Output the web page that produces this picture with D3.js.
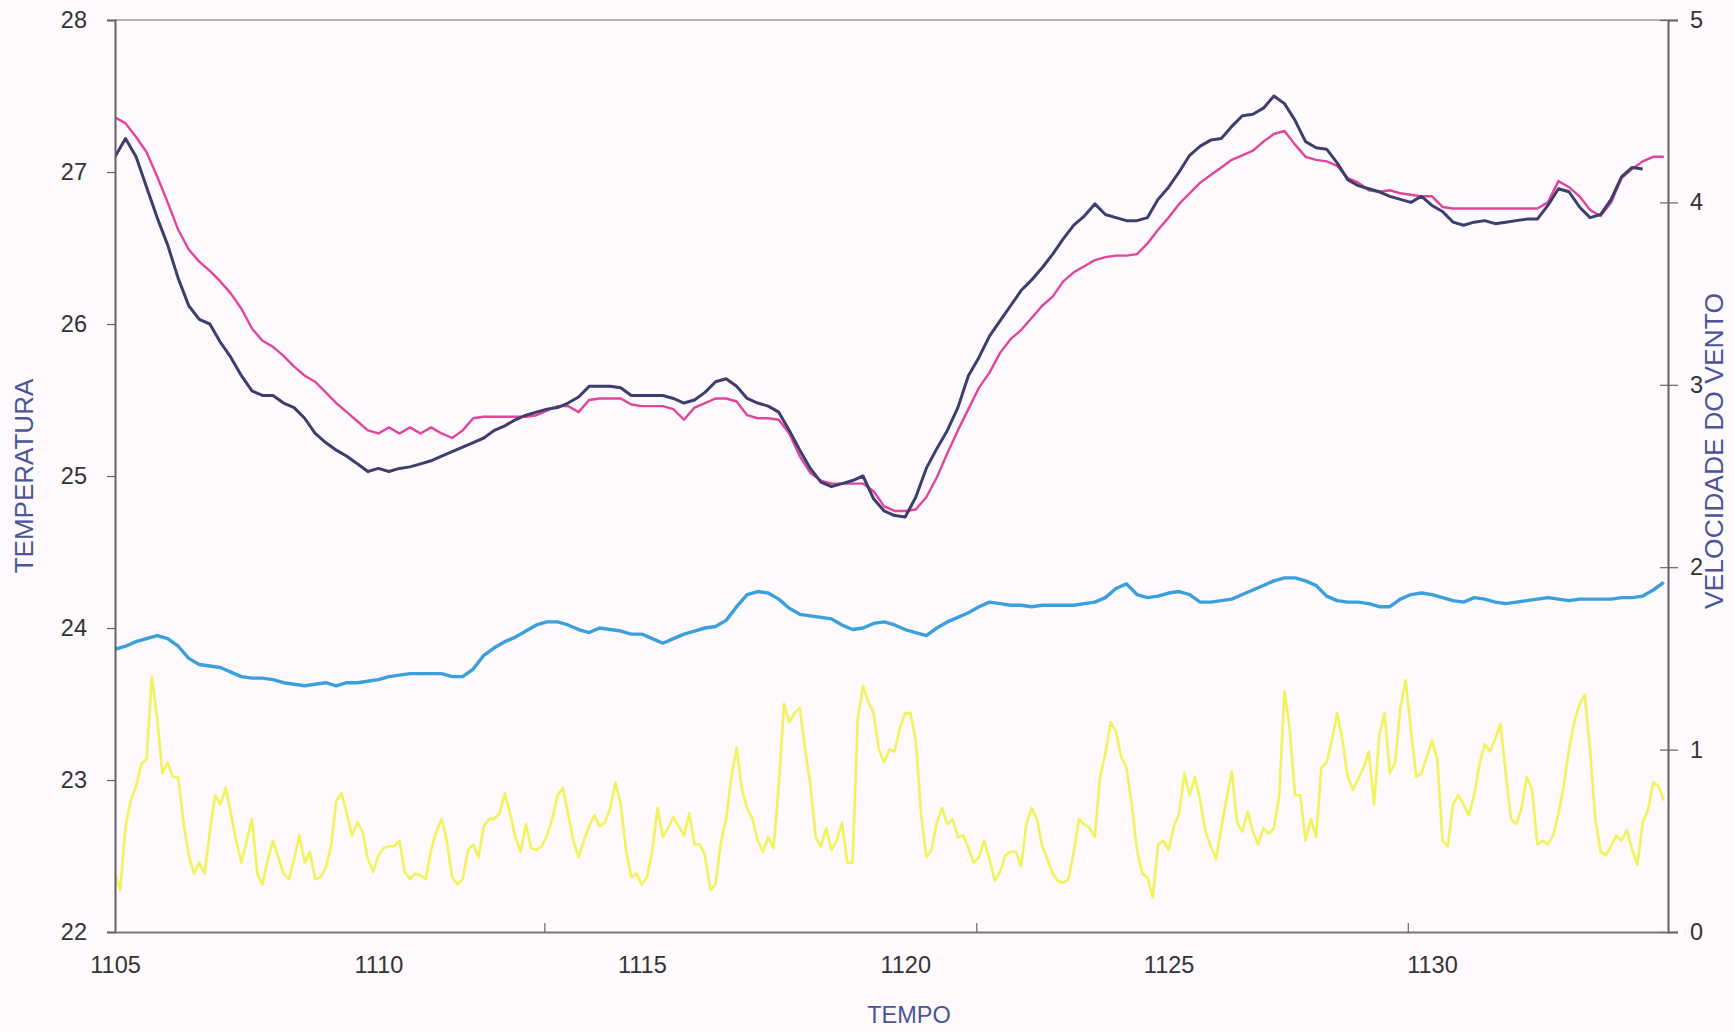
<!DOCTYPE html>
<html>
<head>
<meta charset="utf-8">
<script src="https://cdn.jsdelivr.net/npm/d3@7"></script>
<style>
  html, body { margin: 0; padding: 0; background: #fdf9fc; }
  svg { display: block; }
  text { font-family: "Liberation Sans", Arial, sans-serif; }
</style>
</head>
<body>
<svg id="chart" width="1734" height="1032"></svg>
<script>
// Sampling grid: temperatures every 0.2, wind every 0.1 time units from 1105
const tStart = 1105;
const tempStep = 0.2;
const windStep = 0.1;

// Air temperature, station 1 (dark line)
const tempA = [
  27.10, 27.22, 27.10, 26.90, 26.70, 26.52, 26.30, 26.12, 26.03, 26.00,
  25.88, 25.78, 25.66, 25.56, 25.53, 25.53, 25.48, 25.45, 25.38, 25.28,
  25.22, 25.17, 25.13, 25.08, 25.03, 25.05, 25.03, 25.05, 25.06, 25.08,
  25.10, 25.13, 25.16, 25.19, 25.22, 25.25, 25.30, 25.33, 25.37, 25.40,
  25.42, 25.44, 25.45, 25.48, 25.52, 25.59, 25.59, 25.59, 25.58, 25.53,
  25.53, 25.53, 25.53, 25.51, 25.48, 25.50, 25.55, 25.62, 25.64, 25.59,
  25.51, 25.48, 25.46, 25.42, 25.30, 25.17, 25.05, 24.96, 24.93, 24.95,
  24.97, 25.00, 24.85, 24.77, 24.74, 24.73, 24.86, 25.05, 25.18, 25.30,
  25.45, 25.66, 25.78, 25.92, 26.02, 26.12, 26.22, 26.29, 26.37, 26.46,
  26.56, 26.65, 26.71, 26.79, 26.72, 26.70, 26.68, 26.68, 26.70, 26.82,
  26.90, 27.00, 27.11, 27.17, 27.21, 27.22, 27.30, 27.37, 27.38, 27.42,
  27.50, 27.45, 27.34, 27.20, 27.16, 27.15, 27.06, 26.95, 26.91, 26.89,
  26.87, 26.84, 26.82, 26.80, 26.84, 26.78, 26.74, 26.67, 26.65, 26.67,
  26.68, 26.66, 26.67, 26.68, 26.69, 26.69, 26.78, 26.89, 26.87, 26.77,
  26.70, 26.72, 26.82, 26.97, 27.03, 27.02
];

// Air temperature, station 2 (magenta line)
const tempB = [
  27.36, 27.32, 27.23, 27.13, 26.97, 26.80, 26.62, 26.49, 26.41, 26.35,
  26.28, 26.20, 26.10, 25.97, 25.89, 25.85, 25.79, 25.72, 25.66, 25.62,
  25.55, 25.48, 25.42, 25.36, 25.30, 25.28, 25.32, 25.28, 25.32, 25.28,
  25.32, 25.28, 25.25, 25.30, 25.38, 25.39, 25.39, 25.39, 25.39, 25.39,
  25.40, 25.43, 25.46, 25.46, 25.42, 25.50, 25.51, 25.51, 25.51, 25.47,
  25.46, 25.46, 25.46, 25.44, 25.37, 25.45, 25.48, 25.51, 25.51, 25.49,
  25.40, 25.38, 25.38, 25.37, 25.28, 25.13, 25.02, 24.97, 24.95, 24.95,
  24.95, 24.95, 24.90, 24.80, 24.77, 24.77, 24.78, 24.86, 24.99, 25.15,
  25.30, 25.44, 25.58, 25.68, 25.81, 25.90, 25.96, 26.04, 26.12, 26.18,
  26.28, 26.34, 26.38, 26.42, 26.44, 26.45, 26.45, 26.46, 26.53, 26.62,
  26.70, 26.79, 26.86, 26.93, 26.98, 27.03, 27.08, 27.11, 27.14, 27.20,
  27.25, 27.27, 27.18, 27.10, 27.08, 27.07, 27.04, 26.96, 26.93, 26.88,
  26.87, 26.88, 26.86, 26.85, 26.84, 26.84, 26.77, 26.76, 26.76, 26.76,
  26.76, 26.76, 26.76, 26.76, 26.76, 26.76, 26.80, 26.94, 26.90, 26.84,
  26.75, 26.71, 26.80, 26.96, 27.02, 27.07, 27.10, 27.10
];

// Smooth temperature (light blue line), left axis
const tempC = [
  23.86, 23.88, 23.91, 23.93, 23.95, 23.93, 23.88, 23.80, 23.76, 23.75,
  23.74, 23.71, 23.68, 23.67, 23.67, 23.66, 23.64, 23.63, 23.62, 23.63,
  23.64, 23.62, 23.64, 23.64, 23.65, 23.66, 23.68, 23.69, 23.70, 23.70,
  23.70, 23.70, 23.68, 23.68, 23.73, 23.82, 23.87, 23.91, 23.94, 23.98,
  24.02, 24.04, 24.04, 24.02, 23.99, 23.97, 24.00, 23.99, 23.98, 23.96,
  23.96, 23.93, 23.90, 23.93, 23.96, 23.98, 24.00, 24.01, 24.05, 24.14,
  24.22, 24.24, 24.23, 24.19, 24.13, 24.09, 24.08, 24.07, 24.06, 24.02,
  23.99, 24.00, 24.03, 24.04, 24.02, 23.99, 23.97, 23.95, 24.00, 24.04,
  24.07, 24.10, 24.14, 24.17, 24.16, 24.15, 24.15, 24.14, 24.15, 24.15,
  24.15, 24.15, 24.16, 24.17, 24.20, 24.26, 24.29, 24.22, 24.20, 24.21,
  24.23, 24.24, 24.22, 24.17, 24.17, 24.18, 24.19, 24.22, 24.25, 24.28,
  24.31, 24.33, 24.33, 24.31, 24.28, 24.21, 24.18, 24.17, 24.17, 24.16,
  24.14, 24.14, 24.19, 24.22, 24.23, 24.22, 24.20, 24.18, 24.17, 24.20,
  24.19, 24.17, 24.16, 24.17, 24.18, 24.19, 24.20, 24.19, 24.18, 24.19,
  24.19, 24.19, 24.19, 24.20, 24.20, 24.21, 24.25, 24.30
];

// Wind speed (yellow line), right axis
const windSpeed = [
  0.32, 0.23, 0.58, 0.72, 0.80, 0.92, 0.95, 1.40, 1.17, 0.87,
  0.93, 0.85, 0.85, 0.60, 0.42, 0.32, 0.38, 0.32, 0.55, 0.75,
  0.70, 0.79, 0.65, 0.50, 0.38, 0.50, 0.62, 0.32, 0.26, 0.40,
  0.50, 0.41, 0.32, 0.29, 0.40, 0.53, 0.38, 0.44, 0.29, 0.30,
  0.35, 0.47, 0.72, 0.76, 0.65, 0.53, 0.60, 0.55, 0.40, 0.33,
  0.42, 0.46, 0.47, 0.47, 0.50, 0.33, 0.29, 0.32, 0.31, 0.29,
  0.45, 0.55, 0.62, 0.50, 0.30, 0.26, 0.29, 0.45, 0.48, 0.41,
  0.58, 0.62, 0.62, 0.65, 0.76, 0.65, 0.52, 0.44, 0.59, 0.46,
  0.45, 0.47, 0.53, 0.62, 0.75, 0.79, 0.65, 0.50, 0.41, 0.50,
  0.58, 0.64, 0.58, 0.60, 0.68, 0.82, 0.70, 0.45, 0.30, 0.32,
  0.26, 0.30, 0.45, 0.68, 0.52, 0.57, 0.63, 0.58, 0.53, 0.65,
  0.48, 0.48, 0.42, 0.23, 0.26, 0.49, 0.62, 0.85, 1.01, 0.78,
  0.68, 0.62, 0.50, 0.44, 0.52, 0.46, 0.80, 1.25, 1.15, 1.20,
  1.23, 1.00, 0.81, 0.52, 0.47, 0.57, 0.45, 0.50, 0.60, 0.38,
  0.38, 1.17, 1.35, 1.26, 1.20, 1.00, 0.93, 1.00, 0.99, 1.12,
  1.20, 1.20, 1.05, 0.65, 0.41, 0.45, 0.60, 0.68, 0.59, 0.62,
  0.52, 0.53, 0.46, 0.38, 0.41, 0.50, 0.40, 0.28, 0.33, 0.42,
  0.44, 0.44, 0.36, 0.59, 0.68, 0.62, 0.47, 0.40, 0.32, 0.28,
  0.27, 0.29, 0.44, 0.62, 0.59, 0.57, 0.52, 0.85, 0.98, 1.15,
  1.10, 0.96, 0.90, 0.70, 0.45, 0.32, 0.30, 0.19, 0.48, 0.50,
  0.45, 0.58, 0.65, 0.87, 0.75, 0.85, 0.72, 0.55, 0.47, 0.40,
  0.57, 0.73, 0.88, 0.60, 0.55, 0.66, 0.55, 0.48, 0.57, 0.54,
  0.57, 0.75, 1.32, 1.11, 0.75, 0.75, 0.50, 0.62, 0.52, 0.90,
  0.93, 1.05, 1.20, 1.05, 0.85, 0.78, 0.84, 0.90, 0.99, 0.70,
  1.08, 1.20, 0.87, 0.93, 1.23, 1.38, 1.11, 0.85, 0.87, 0.96,
  1.05, 0.95, 0.50, 0.47, 0.70, 0.75, 0.70, 0.64, 0.75, 0.92,
  1.03, 0.99, 1.06, 1.14, 0.87, 0.62, 0.59, 0.68, 0.85, 0.78,
  0.48, 0.50, 0.48, 0.53, 0.65, 0.80, 1.00, 1.15, 1.25, 1.30,
  1.00, 0.62, 0.44, 0.42, 0.47, 0.53, 0.50, 0.56, 0.45, 0.37,
  0.60, 0.67, 0.82, 0.80, 0.72
];

// Axis ticks and labels
const timeLabels = [1105, 1110, 1115, 1120, 1125, 1130];
const timeTickMarks = [1113.16, 1121.36, 1129.55];
const tempTicks = [22, 23, 24, 25, 26, 27, 28];
const windTicks = [0, 1, 2, 3, 4, 5];
const timeEnd = 1134.48;

const svg = d3.select("#chart");
const plot = { left: 115, right: 1668, top: 20, bottom: 932 };

const x = d3.scaleLinear().domain([tStart, timeEnd]).range([plot.left, plot.right]);
const yT = d3.scaleLinear().domain([22, 28]).range([plot.bottom, plot.top]);
const yW = d3.scaleLinear().domain([0, 5]).range([plot.bottom, plot.top]);

// Plot frame (top edge)
svg.append("line")
  .attr("x1", plot.left).attr("x2", plot.right)
  .attr("y1", plot.top).attr("y2", plot.top)
  .attr("stroke", "#9a9a9a").attr("stroke-width", 1.5);

svg.append("clipPath").attr("id", "plotclip")
  .append("rect")
  .attr("x", plot.left).attr("y", plot.top)
  .attr("width", plot.right - plot.left).attr("height", plot.bottom - plot.top);

function series(values, step, yScale) {
  return values.map((v, i) => [tStart + i * step, v])
    .filter(d => d[0] <= timeEnd + 1e-9)
    .map(d => [x(d[0]), yScale(d[1])]);
}

const lineGen = d3.line();
const lines = svg.append("g").attr("clip-path", "url(#plotclip)");

lines.append("path")
  .attr("d", lineGen(series(windSpeed, windStep, yW)))
  .attr("fill", "none").attr("stroke", "#f2f25a").attr("stroke-width", 2.6)
  .attr("stroke-linejoin", "round");

lines.append("path")
  .attr("d", lineGen(series(tempC, tempStep, yT)))
  .attr("fill", "none").attr("stroke", "#3a9fdc").attr("stroke-width", 3.4)
  .attr("stroke-linejoin", "round");

lines.append("path")
  .attr("d", lineGen(series(tempB, tempStep, yT)))
  .attr("fill", "none").attr("stroke", "#e2449c").attr("stroke-width", 2.4)
  .attr("stroke-linejoin", "round");

lines.append("path")
  .attr("d", lineGen(series(tempA, tempStep, yT)))
  .attr("fill", "none").attr("stroke", "#3c3f6e").attr("stroke-width", 3)
  .attr("stroke-linejoin", "round");

// Left axis (temperature)
const leftAxis = svg.append("g")
  .attr("transform", `translate(${plot.left},0)`)
  .call(d3.axisLeft(yT).tickValues(tempTicks).tickSize(8).tickPadding(20).tickFormat(d3.format("d")));

// Right axis (wind speed), ticks crossing the line
const rightAxis = svg.append("g")
  .attr("transform", `translate(${plot.right},0)`)
  .call(d3.axisRight(yW).tickValues(windTicks).tickSize(10).tickPadding(12).tickFormat(d3.format("d")));
rightAxis.selectAll(".tick line").attr("x1", -8);

// Bottom axis: labels every 5, tick marks pointing into the plot
const bottomAxis = svg.append("g")
  .attr("transform", `translate(0,${plot.bottom})`)
  .call(d3.axisBottom(x).tickValues(timeLabels).tickSize(0).tickPadding(24).tickFormat(d3.format("d")));
bottomAxis.selectAll(".tick line").remove();
bottomAxis.selectAll(".marks").data(timeTickMarks).enter().append("line")
  .attr("x1", d => x(d)).attr("x2", d => x(d))
  .attr("y1", 0).attr("y2", -9)
  .attr("stroke", "#666").attr("stroke-width", 1.2);

[leftAxis, rightAxis, bottomAxis].forEach(g => {
  g.select(".domain").attr("stroke", "#626262").attr("stroke-width", 2);
  g.selectAll(".tick line").attr("stroke", "#626262").attr("stroke-width", 1.2);
  g.selectAll(".tick text").attr("fill", "#333").attr("font-size", 23.5)
    .attr("font-family", '"Liberation Sans", Arial, sans-serif');
});
bottomAxis.select(".domain").attr("stroke", "#777");

// Axis titles
const titleColor = "#4a5597";
svg.append("text")
  .attr("transform", `translate(33,${(plot.top + plot.bottom) / 2}) rotate(-90)`)
  .attr("text-anchor", "middle")
  .attr("fill", titleColor).attr("font-size", 26)
  .text("TEMPERATURA");

svg.append("text")
  .attr("transform", `translate(1723,${(plot.top + plot.bottom) / 2 - 25}) rotate(-90)`)
  .attr("text-anchor", "middle")
  .attr("fill", titleColor).attr("font-size", 26.5)
  .text("VELOCIDADE DO VENTO");

svg.append("text")
  .attr("x", 909).attr("y", 1023)
  .attr("text-anchor", "middle")
  .attr("fill", titleColor).attr("font-size", 23.5)
  .text("TEMPO");
</script>
</body>
</html>
